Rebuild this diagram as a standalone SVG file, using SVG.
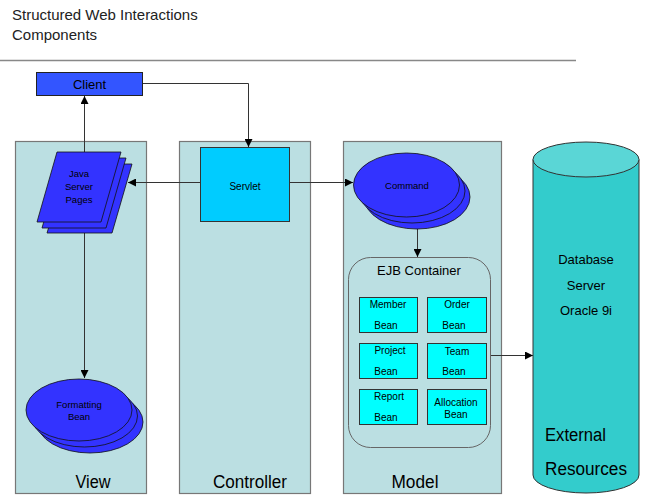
<svg xmlns="http://www.w3.org/2000/svg" width="649" height="495" viewBox="0 0 649 495">
  <defs>
    <marker id="arrow" viewBox="0 0 8 8" refX="8" refY="4" markerWidth="8" markerHeight="8" markerUnits="userSpaceOnUse" orient="auto">
      <path d="M0,0 L8,4 L0,8 z" fill="#000"/>
    </marker>
    <style>
      text { font-family: "Liberation Sans", Arial, sans-serif; fill: #000; }
      .title { font-size: 15px; fill: #222; }
      .col { fill: #bbdfe2; stroke: #777; stroke-width: 1.2; }
      .collabel { font-size: 17.5px; text-anchor: middle; }
      .blue { fill: #3333ff; stroke: #111; stroke-width: 0.8; }
      .small { font-size: 9.5px; text-anchor: middle; }
      .bean { fill: #00ffff; stroke: #333; stroke-width: 1; }
      .beantext { font-size: 10px; text-anchor: middle; }
      .conn { fill: none; stroke: #333; stroke-width: 1; }
      .db { font-size: 13px; text-anchor: middle; }
      .ext { font-size: 18px; }
    </style>
  </defs>

  <rect width="649" height="495" fill="#fff"/>

  <!-- heading -->
  <g id="title">
    <text class="title" x="12" y="20">Structured Web Interactions</text>
    <text class="title" x="12" y="40">Components</text>
    <line x1="0" y1="60.5" x2="576" y2="60.5" stroke="#888" stroke-width="1.5"/>
  </g>

  <!-- tier columns -->
  <g id="view-column">
    <rect class="col" x="15.5" y="141.5" width="131" height="352"/>
    <text class="collabel" x="93" y="488" textLength="35" lengthAdjust="spacingAndGlyphs">View</text>
  </g>
  <g id="controller-column">
    <rect class="col" x="179.5" y="141.5" width="131" height="352"/>
    <text class="collabel" x="250" y="488" textLength="74" lengthAdjust="spacingAndGlyphs">Controller</text>
  </g>
  <g id="model-column">
    <rect class="col" x="343.5" y="141.5" width="158" height="352"/>
    <text class="collabel" x="415" y="488" textLength="47" lengthAdjust="spacingAndGlyphs">Model</text>
  </g>

  <!-- connectors -->
  <g id="connectors">
    <path class="conn" d="M142,83.5 H248.5 V147" marker-end="url(#arrow)"/>
    <path class="conn" d="M84.5,152 V96" marker-end="url(#arrow)"/>
    <path class="conn" d="M200,182.5 H128" marker-end="url(#arrow)"/>
    <path class="conn" d="M290,182.5 H353" marker-end="url(#arrow)"/>
    <path class="conn" d="M84.5,233 V378" marker-end="url(#arrow)"/>
    <path class="conn" d="M417.5,229 V257" marker-end="url(#arrow)"/>
    <path class="conn" d="M491,355.5 H533" marker-end="url(#arrow)"/>
  </g>

  <g id="client">
    <rect x="36.5" y="72.5" width="106" height="23" fill="#3355ff" stroke="#222" stroke-width="1"/>
    <text x="89.5" y="89" font-size="13" text-anchor="middle">Client</text>
  </g>

  <g id="servlet">
    <rect x="200.5" y="147.5" width="89" height="74" fill="#00ccff" stroke="#333" stroke-width="1"/>
    <text x="245" y="190" font-size="10" text-anchor="middle">Servlet</text>
  </g>

  <g id="java-server-pages">
    <polygon class="blue" points="68,164 132,164 112,233 47,233"/>
    <polygon class="blue" points="62,158 126,158 106,228 42,228"/>
    <polygon class="blue" points="57,152 121,152 101,222 37,222"/>
    <text class="small" x="79" y="177">Java</text>
    <text class="small" x="79" y="190">Server</text>
    <text class="small" x="79" y="203">Pages</text>
  </g>

  <g id="formatting-bean">
    <ellipse class="blue" cx="90" cy="422" rx="53" ry="31"/>
    <ellipse class="blue" cx="84.5" cy="416" rx="53" ry="31"/>
    <ellipse class="blue" cx="79" cy="410" rx="53" ry="31"/>
    <text class="small" x="79" y="408">Formatting</text>
    <text class="small" x="79" y="420">Bean</text>
  </g>

  <g id="command">
    <ellipse class="blue" cx="417" cy="197" rx="53" ry="32"/>
    <ellipse class="blue" cx="412" cy="191" rx="53" ry="32"/>
    <ellipse class="blue" cx="406.5" cy="185" rx="53" ry="32"/>
    <text class="small" x="407" y="189">Command</text>
  </g>

  <g id="ejb-container">
    <rect x="348.5" y="257.5" width="142" height="190" rx="22" ry="22" fill="#bbdfe2" stroke="#666" stroke-width="1"/>
    <text x="419" y="275" font-size="13" text-anchor="middle">EJB Container</text>
  </g>

  <g id="member-bean">
    <rect class="bean" x="359.5" y="297.5" width="58" height="35"/>
    <text class="beantext" x="388" y="308">Member</text>
    <text class="beantext" x="386" y="329">Bean</text>
  </g>
  <g id="order-bean">
    <rect class="bean" x="427.5" y="297.5" width="59" height="35"/>
    <text class="beantext" x="457" y="308">Order</text>
    <text class="beantext" x="454" y="329">Bean</text>
  </g>
  <g id="project-bean">
    <rect class="bean" x="359.5" y="343.5" width="58" height="35"/>
    <text class="beantext" x="390" y="354">Project</text>
    <text class="beantext" x="386" y="375">Bean</text>
  </g>
  <g id="team-bean">
    <rect class="bean" x="427.5" y="343.5" width="59" height="35"/>
    <text class="beantext" x="457" y="355">Team</text>
    <text class="beantext" x="454" y="375">Bean</text>
  </g>
  <g id="report-bean">
    <rect class="bean" x="359.5" y="389.5" width="58" height="35"/>
    <text class="beantext" x="389" y="400">Report</text>
    <text class="beantext" x="386" y="421">Bean</text>
  </g>
  <g id="allocation-bean">
    <rect class="bean" x="427.5" y="389.5" width="59" height="35"/>
    <text class="beantext" x="456" y="406">Allocation</text>
    <text class="beantext" x="456" y="418">Bean</text>
  </g>

  <g id="database">
    <path d="M533,159.5 V475 A53,18 0 0 0 639,475 V159.5" fill="#33cccc" stroke="#333" stroke-width="1"/>
    <ellipse cx="586" cy="159.5" rx="53" ry="17.5" fill="#5ad6d6" stroke="#333" stroke-width="1"/>
    <text class="db" x="586" y="264">Database</text>
    <text class="db" x="586" y="290">Server</text>
    <text class="db" x="586" y="315">Oracle 9i</text>
    <text class="ext" x="545" y="441" textLength="61" lengthAdjust="spacingAndGlyphs">External</text>
    <text class="ext" x="545" y="475" textLength="82" lengthAdjust="spacingAndGlyphs">Resources</text>
  </g>
</svg>
